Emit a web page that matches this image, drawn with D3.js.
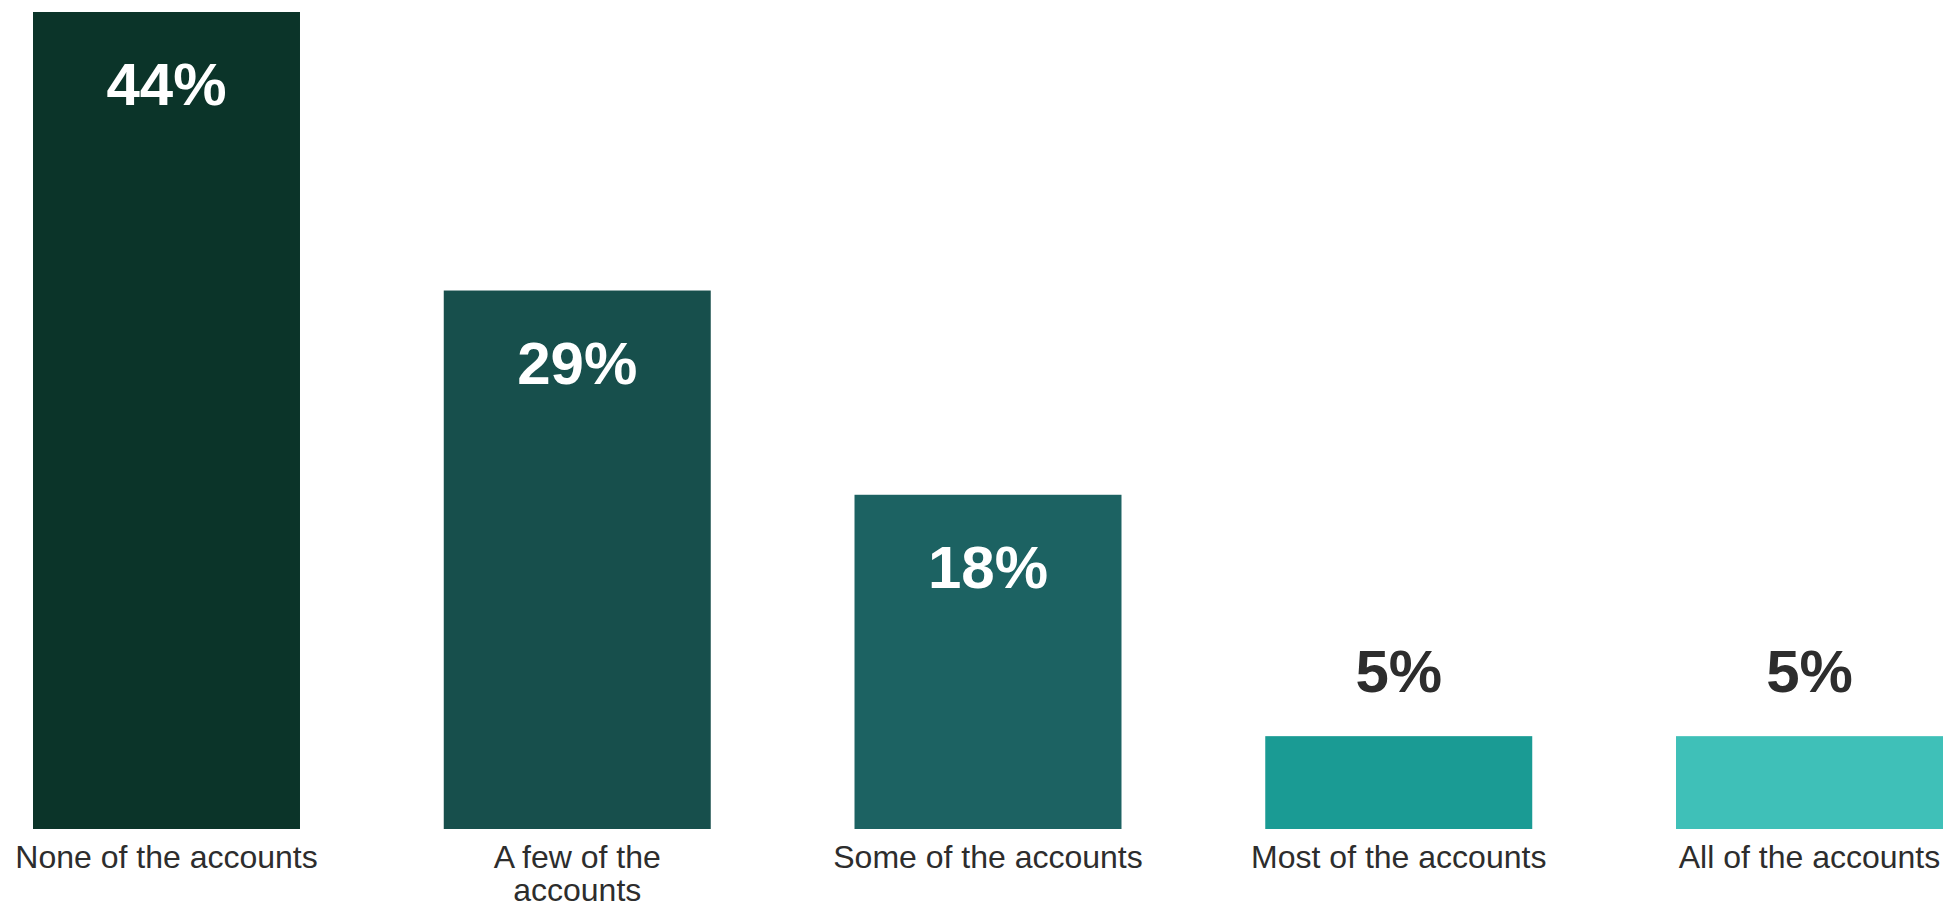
<!DOCTYPE html>
<html>
<head>
<meta charset="utf-8">
<script src="https://cdn.jsdelivr.net/npm/d3@7/dist/d3.min.js"></script>
<style>
  html, body { margin: 0; padding: 0; background: #ffffff; }
  svg { display: block; }
</style>
</head>
<body>
<svg id="chart" width="1944" height="908"></svg>
<script>
const categories = ["None of the accounts", "A few of the accounts", "Some of the accounts", "Most of the accounts", "All of the accounts"];
const categoryLines = [["None of the accounts"], ["A few of the", "accounts"], ["Some of the accounts"], ["Most of the accounts"], ["All of the accounts"]];
const values = [44, 29, 18, 5, 5];
const valueLabels = ["44%", "29%", "18%", "5%", "5%"];
const barColors = ["#0b3429", "#174f4c", "#1c6262", "#1a9b94", "#3fc0b8"];

const svg = d3.select("#chart");
const font = "'Liberation Sans', Arial, sans-serif";

const x = d3.scaleBand().domain(categories).range([33, 1943]).paddingInner(0.35).paddingOuter(0);
const y = d3.scaleLinear().domain([0, 44]).range([829, 12]);

const data = categories.map((c, i) => ({ c, v: values[i], label: valueLabels[i], color: barColors[i], lines: categoryLines[i] }));

svg.selectAll("rect.bar").data(data).enter().append("rect")
  .attr("class", "bar")
  .attr("x", d => x(d.c))
  .attr("y", d => y(d.v))
  .attr("width", x.bandwidth())
  .attr("height", d => y(0) - y(d.v))
  .attr("fill", d => d.color);

// value labels: inside for tall bars, above for short bars
svg.selectAll("text.val").data(data).enter().append("text")
  .attr("class", "val")
  .attr("x", d => x(d.c) + x.bandwidth() / 2)
  .attr("y", d => d.v >= 10 ? y(d.v) + 93 : y(d.v) - 44)
  .attr("text-anchor", "middle")
  .attr("font-family", font)
  .attr("font-weight", "bold")
  .attr("font-size", 60)
  .attr("fill", d => d.v >= 10 ? "#ffffff" : "#2d2d2d")
  .text(d => d.label);

// category labels
const cat = svg.selectAll("text.cat").data(data).enter().append("text")
  .attr("class", "cat")
  .attr("x", d => x(d.c) + x.bandwidth() / 2)
  .attr("y", 868)
  .attr("text-anchor", "middle")
  .attr("font-family", font)
  .attr("font-size", 32)
  .attr("fill", "#2d2d2d");
cat.selectAll("tspan").data(d => d.lines.map(l => ({ l, cx: x(d.c) + x.bandwidth() / 2 }))).enter().append("tspan")
  .attr("x", t => t.cx)
  .attr("dy", (t, i) => i === 0 ? 0 : 33)
  .text(t => t.l);
</script>
</body>
</html>
